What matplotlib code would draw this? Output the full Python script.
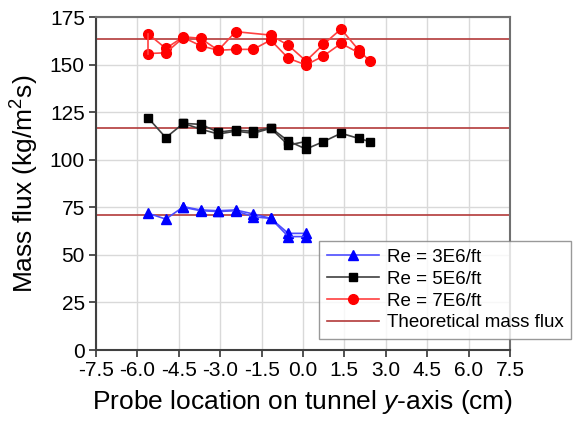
import numpy as np
import matplotlib.pyplot as plt

plt.rcParams['font.family'] = ['Liberation Sans', 'DejaVu Sans']
plt.rcParams['mathtext.fontset'] = 'custom'
plt.rcParams['mathtext.rm'] = 'Liberation Sans'
plt.rcParams['mathtext.it'] = 'Liberation Sans:italic'

# Probe positions (cm) and measured mass flux, two runs per Reynolds number
x_pos = [-5.6, -4.97, -4.33, -3.71, -3.07, -2.44, -1.80, -1.17, -0.53, 0.11, 0.74, 1.38, 2.02, 2.43]

re3_x1 = [-5.6, -4.97, -4.33, -3.71, -3.07, -2.44, -1.80, -1.17, -0.53, 0.11]
re3_y1 = [71.8, 68.8, 75.3, 73.6, 73.2, 73.6, 71.5, 69.2, 61.3, 61.3]
re3_x2 = [-4.33, -3.71, -3.07, -2.44, -1.80, -1.17, -0.53, 0.11]
re3_y2 = [75.0, 73.2, 72.8, 73.2, 70.0, 69.2, 59.6, 59.6]

re5_x1 = x_pos
re5_y1 = [121.8, 111.6, 119.1, 118.6, 114.5, 115.6, 114.9, 116.8, 109.8, 105.6, 109.5, 113.9, 111.2, 109.5]
re5_x2 = [-4.33, -3.71, -3.07, -2.44, -1.80, -1.17, -0.53, 0.11]
re5_y2 = [119.1, 116.1, 113.5, 115.0, 113.9, 116.5, 107.7, 109.6]

re7_x1 = [-5.6, -4.97, -4.33, -3.71, -3.07, -2.44, -1.17, -0.53, 0.11, 0.74, 1.38, 2.02, 2.43]
re7_y1 = [166.0, 158.5, 164.6, 163.8, 157.5, 167.3, 165.5, 160.1, 151.9, 160.6, 168.7, 157.6, 151.7]
re7_x2 = [-5.6, -4.97, -4.33, -3.71, -3.07, -2.44, -1.80, -1.17, -0.53, 0.11, 0.74, 1.38, 2.02]
re7_y2 = [155.8, 156.2, 164.2, 159.9, 157.5, 158.0, 158.0, 162.9, 153.3, 149.8, 154.5, 161.1, 156.2]

theory = [70.9, 116.8, 163.4]

labels = ['Re = 3E6/ft', 'Re = 5E6/ft', 'Re = 7E6/ft', 'Theoretical mass flux']

fig = plt.figure(figsize=(5.73, 4.21), dpi=100)
ax = fig.add_axes([0.1675, 0.1686, 0.7225, 0.791])

th_col = '#b33a3a'
for t in theory:
    ax.axhline(t, color=th_col, lw=1.2, zorder=2)

styles = [
    (re3_x1, re3_y1, re3_x2, re3_y2, '^', '#0000ff', '#4d4dff', 7),
    (re5_x1, re5_y1, re5_x2, re5_y2, 's', '#000000', '#404040', 6),
    (re7_x1, re7_y1, re7_x2, re7_y2, 'o', '#ff0000', '#ff4040', 7),
]
handles = []
for (x1, y1, x2, y2, m, mc, lc, ms), lab in zip(styles, labels):
    h, = ax.plot(x1, y1, color=lc, lw=1.2, marker=m, ms=ms, mfc=mc, mec=mc, zorder=3, label=lab)
    ax.plot(x2, y2, color=lc, lw=1.2, marker=m, ms=ms, mfc=mc, mec=mc, zorder=3)
    handles.append(h)
# red runs joined at the turning point
ax.plot([re7_x1[0], re7_x2[0]], [re7_y1[0], re7_y2[0]], color='#ff4040', lw=1.2, zorder=3)

th_handle, = ax.plot([], [], color=th_col, lw=1.2, label=labels[3])
handles.append(th_handle)

ax.set_xlim(-7.5, 7.5)
ax.set_ylim(0, 175)
ax.set_xticks(np.arange(-7.5, 7.6, 1.5))
ax.set_xticklabels([f'{v:.1f}' for v in np.arange(-7.5, 7.6, 1.5)])
ax.set_yticks(np.arange(0, 176, 25))
ax.tick_params(direction='out', length=5, width=1.2, labelsize=15, colors='#333333', labelcolor='black', pad=3)
ax.grid(True, color='#d9d9d9', lw=1.0)
ax.set_axisbelow(True)
for s in ['left', 'bottom']:
    ax.spines[s].set_color('#404040')
    ax.spines[s].set_linewidth(1.5)
for s in ['top', 'right']:
    ax.spines[s].set_color('#707070')
    ax.spines[s].set_linewidth(1.5)

ax.set_xlabel('Probe location on tunnel $\\mathit{y}$-axis (cm)', fontsize=19, labelpad=6)
ax.set_ylabel('Mass flux (kg/m$^2$s)', fontsize=19, labelpad=6)

leg = fig.legend(handles=handles, loc='lower left', bbox_to_anchor=(0.557, 0.195),
                 fontsize=13.5, frameon=True, fancybox=False, handlelength=2.8,
                 borderpad=0.4, labelspacing=0.25, handletextpad=0.4, borderaxespad=0)
leg.get_frame().set_edgecolor('#808080')
leg.get_frame().set_linewidth(1.0)

fig.savefig('out.png', dpi=100)
